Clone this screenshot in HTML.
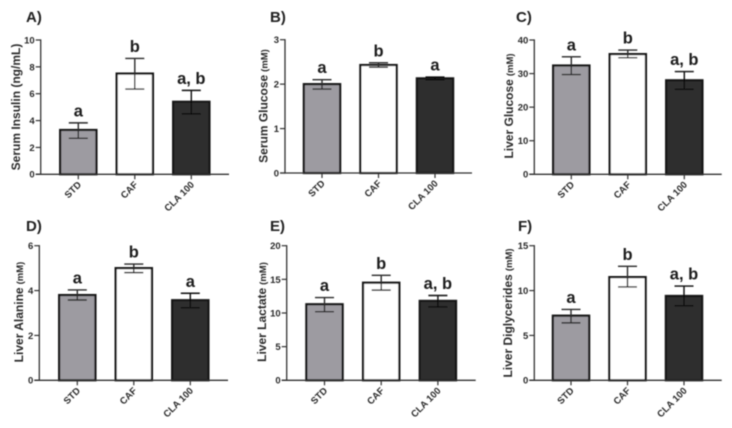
<!DOCTYPE html>
<html lang="en">
<head>
<meta charset="utf-8">
<title>Six-panel bar charts</title>
<style>
html,body{margin:0;padding:0;background:#fff;width:732px;height:428px;overflow:hidden}
svg{display:block;font-family:"Liberation Sans",Arial,sans-serif}
</style>
</head>
<body>
<svg id="figure" xmlns="http://www.w3.org/2000/svg" width="732" height="428" viewBox="0 0 732 428">
<defs><filter id="soft" x="-2%" y="-2%" width="104%" height="104%"><feGaussianBlur stdDeviation="0.45"/></filter></defs>
<rect width="732" height="428" fill="#fff"/>
<g id="root" filter="url(#soft)"></g>
</svg>
<script>
const categories = ['STD', 'CAF', 'CLA 100'];

const panelLetters = ['A)', 'B)', 'C)', 'D)', 'E)', 'F)'];
const yTitles = ['Serum Insulin (ng/mL)', 'Serum Glucose', 'Liver Glucose', 'Liver Alanine', 'Liver Lactate', 'Liver Diglycerides'];
const yUnits = ['', '(mM)', '(mM)', '(mM)', '(mM)', '(mM)'];

const ticksA = [0, 2, 4, 6, 8, 10];
const ticksB = [0, 1, 2, 3];
const ticksC = [0, 10, 20, 30, 40];
const ticksD = [0, 2, 4, 6];
const ticksE = [0, 5, 10, 15, 20];
const ticksF = [0, 5, 10, 15];

const meansA = [3.3, 7.5, 5.4];
const lowerA = [2.68, 6.35, 4.5];
const upperA = [3.83, 8.63, 6.25];
const sigA = ['a', 'b', 'a, b'];

const meansB = [2.0, 2.43, 2.13];
const lowerB = [1.89, 2.38, 2.1];
const upperB = [2.1, 2.48, 2.16];
const sigB = ['a', 'b', 'a'];

const meansC = [32.4, 35.8, 28.0];
const lowerC = [29.7, 34.7, 25.3];
const upperC = [35.0, 37.0, 30.6];
const sigC = ['a', 'b', 'a, b'];

const meansD = [3.8, 5.0, 3.57];
const lowerD = [3.58, 4.8, 3.23];
const upperD = [4.03, 5.18, 3.88];
const sigD = ['a', 'b', 'a'];

const meansE = [11.3, 14.5, 11.8];
const lowerE = [10.2, 13.4, 10.9];
const upperE = [12.3, 15.6, 12.6];
const sigE = ['a', 'b', 'a, b'];

const meansF = [7.2, 11.5, 9.4];
const lowerF = [6.4, 10.4, 8.3];
const upperF = [7.9, 12.7, 10.5];
const sigF = ['a', 'b', 'a, b'];

const tickSets = [ticksA, ticksB, ticksC, ticksD, ticksE, ticksF];
const meanSets = [meansA, meansB, meansC, meansD, meansE, meansF];
const lowerSets = [lowerA, lowerB, lowerC, lowerD, lowerE, lowerF];
const upperSets = [upperA, upperB, upperC, upperD, upperE, upperF];
const sigSets = [sigA, sigB, sigC, sigD, sigE, sigF];

/* Layout of each panel (pixels), separate from the data */
const frames = [
  {ax: 40.7, end: 229, top: 40, base: 174.3, first: 78.3, step: 56.5, lx: 26, ly: 22, tx: 20, ty: 107},
  {ax: 285, end: 472, top: 39.7, base: 173, first: 322, step: 56.5, lx: 270, ly: 22, tx: 267.5, ty: 106},
  {ax: 534.3, end: 721.7, top: 40, base: 174.3, first: 571.3, step: 56.5, lx: 516, ly: 22, tx: 513, ty: 106},
  {ax: 39.3, end: 228, top: 245.7, base: 380.3, first: 77.3, step: 56.5, lx: 26, ly: 231, tx: 23, ty: 312},
  {ax: 286.7, end: 475.7, top: 245.7, base: 380.3, first: 324.5, step: 56.7, lx: 270, ly: 231, tx: 266, ty: 312},
  {ax: 534.3, end: 721.7, top: 245.7, base: 380.3, first: 571, step: 56.5, lx: 518, ly: 231, tx: 512, ty: 313}
];
const barFills = ['#9d9ba1', '#ffffff', '#2f2f2f'];
const barOuterWidth = 38.5;
const INK = '#141414';
const TEXT = '#2b2b2b';

const SVG_NS = 'http://www.w3.org/2000/svg';
const root = document.getElementById('root');

function make(parent, tag, attrs, text) {
  const el = document.createElementNS(SVG_NS, tag);
  for (const k in attrs) el.setAttribute(k, attrs[k]);
  if (text !== undefined) el.textContent = text;
  parent.appendChild(el);
  return el;
}

frames.forEach(function (f, p) {
  const ticks = tickSets[p];
  const maxTick = ticks[ticks.length - 1];
  const yScale = function (v) { return f.base - (v / maxTick) * (f.base - f.top); };
  const xScale = function (i) { return f.first + i * f.step; };

  const g = make(root, 'g', {});
  
  

  const label = make(g, 'text', {x: f.lx, y: f.ly, 'font-size': 15, 'font-weight': 'bold', fill: '#222'}, panelLetters[p]);
  
  

  const title = make(g, 'text', {
    transform: 'translate(' + f.tx + ',' + f.ty + ') rotate(-90)',
    'text-anchor': 'middle', 'font-size': 12, 'font-weight': 'bold', fill: TEXT
  }, yTitles[p]);
  
  
  if (yUnits[p]) {
    make(title, 'tspan', {'font-size': 9.5, dx: 3}, yUnits[p]);
  }

  /* bars */
  meanSets[p].forEach(function (v, i) {
    const cx = xScale(i);
    const bar = make(g, 'rect', {
      x: cx - barOuterWidth / 2 + 1.1, y: yScale(v),
      width: barOuterWidth - 2.2, height: Math.max(0, f.base - yScale(v)),
      fill: barFills[i], stroke: INK, 'stroke-width': 2.2
    });
    
    

    const yLo = yScale(lowerSets[p][i]);
    const yHi = yScale(upperSets[p][i]);
    const err = make(g, 'path', {
      d: 'M' + cx + ' ' + yLo + 'V' + yHi +
         'M' + (cx - 9.5) + ' ' + yHi + 'H' + (cx + 9.5) +
         'M' + (cx - 9.5) + ' ' + yLo + 'H' + (cx + 9.5),
      fill: 'none', stroke: i === 2 ? '#0d0d0d' : '#2a2a2a', 'stroke-width': 1.4
    });
    
    

    const sig = make(g, 'text', {
      x: cx, y: yHi - 6.5, 'text-anchor': 'middle', 'font-size': 16.5, 'font-weight': 'bold', fill: '#1e1e1e'
    }, sigSets[p][i]);
    
    

    const tick = make(g, 'line', {x1: cx, x2: cx, y1: f.base, y2: f.base + 5, stroke: '#333', 'stroke-width': 1.2});
    
    

    const lab = make(g, 'text', {
      transform: 'translate(' + (cx + 3.5) + ',' + (f.base + 11) + ') rotate(-45)',
      'text-anchor': 'end', 'font-size': 9.5, 'font-weight': 'bold', fill: TEXT
    }, categories[i]);
    
    
  });

  /* axes */
  const yAxis = make(g, 'line', {x1: f.ax, x2: f.ax, y1: f.top - 0.6, y2: f.base + 0.6, stroke: '#333', 'stroke-width': 1.3});
  
  

  const xAxis = make(g, 'line', {x1: f.ax - 5, x2: f.end, y1: f.base, y2: f.base, stroke: '#333', 'stroke-width': 1.3});
  
  

  ticks.forEach(function (t) {
    const y = yScale(t);
    const tk = make(g, 'line', {x1: f.ax - 5, x2: f.ax, y1: y, y2: y, stroke: '#333', 'stroke-width': 1.2});
    
    

    const tl = make(g, 'text', {x: f.ax - 6, y: y + 3.4, 'text-anchor': 'end', 'font-size': 9.5, 'font-weight': 'bold', fill: TEXT}, String(t));
    
    
  });
});
</script>
</body>
</html>
